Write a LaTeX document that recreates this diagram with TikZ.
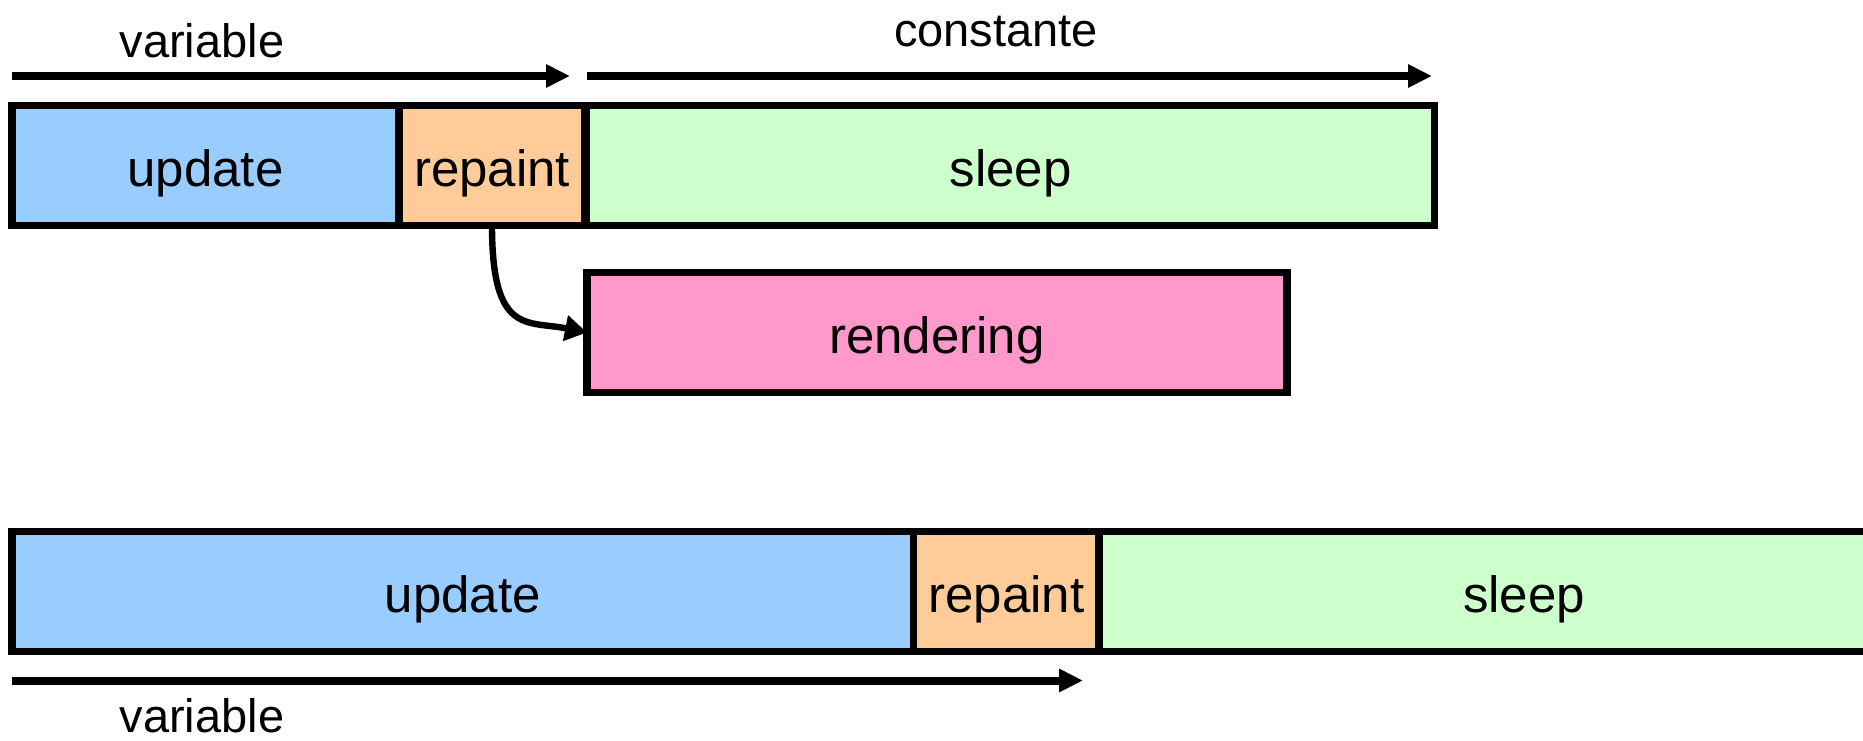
\documentclass[tikz,border=0pt]{standalone}
\usepackage{fontspec}
\setmainfont{Liberation Sans}
\usetikzlibrary{arrows.meta}
\definecolor{cupd}{HTML}{99CCFF}
\definecolor{crep}{HTML}{FFCC99}
\definecolor{cslp}{HTML}{CCFFCC}
\definecolor{crend}{HTML}{FF99CC}
\begin{document}
\begin{tikzpicture}[x=0.5pt,y=-0.5pt,
  phase/.style={draw=black,line width=3.6pt,inner sep=0pt,outer sep=0pt,
    minimum height=60pt,text height=21pt,text depth=0pt,
    font=\fontsize{25.5}{30}\selectfont},
  lbl/.style={inner sep=0pt,anchor=base,font=\fontsize{23.5}{28}\selectfont},
  timearrow/.style={line width=4pt,-{Triangle[length=12pt,width=11pt]}},
  callarrow/.style={line width=3.2pt,-{Triangle[length=11pt,width=12.5pt]}}]
\useasboundingbox (0,0) rectangle (1863,740);
% top row
\node[phase,fill=cupd,minimum width=193.5pt] (upd1) at (205.5,165.5) {update};
\node[phase,fill=crep,minimum width=93pt] (rep1) at (492,165.5) {repaint};
\node[phase,fill=cslp,minimum width=424pt] (slp1) at (1010.5,165.5) {sleep};
% rendering
\node[phase,fill=crend,minimum width=350pt] (rend) at (937,332.5) {rendering};
% bottom row
\node[phase,fill=cupd,minimum width=450.8pt] (upd2) at (462.8,591.5) {update};
\node[phase,fill=crep,minimum width=92.7pt] (rep2) at (1006.3,591.5) {repaint};
\node[phase,fill=cslp,minimum width=388pt] (slp2) at (1487,591.5) {\hspace*{37pt}sleep};
% time arrows
\coordinate (a1s) at (12,76);
\coordinate (a1e) at (570,76);
\coordinate (a2s) at (587,76);
\coordinate (a2e) at (1432,76);
\coordinate (a3s) at (12,680.5);
\coordinate (a3e) at (1083,680.5);
\draw[timearrow] (a1s) -- (a1e);
\draw[timearrow] (a2s) -- (a2e);
\draw[timearrow] (a3s) -- (a3e);
\node[lbl] (var1) at (202,57) {variable};
\node[lbl] (const) at (996,46) {constante};
\node[lbl] (var2) at (202,732) {variable};
% call arrow
\draw[callarrow] (rep1.south) .. controls +(0,110) and +(-60,-12) .. (rend.west);
\end{tikzpicture}
\end{document}
